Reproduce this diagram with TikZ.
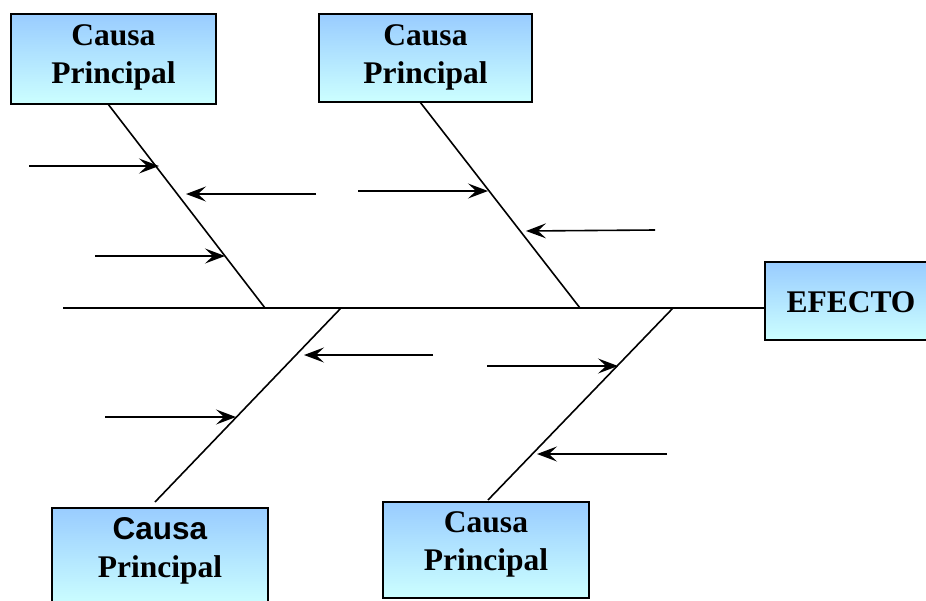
\documentclass[tikz,border=0pt]{standalone}
\usepackage{fontspec}
\setmainfont{Liberation Serif}
\newfontfamily\arialf{Liberation Sans}
\usetikzlibrary{arrows.meta}
\definecolor{boxtop}{HTML}{99CCFF}
\definecolor{boxbot}{HTML}{CCFFFF}
\begin{document}
\begin{tikzpicture}[x=1pt,y=-1pt,
  causebox/.style={draw=black, line width=1.4pt, top color=boxtop, bottom color=boxbot},
  lbl/.style={font=\fontsize{31.5}{38}\selectfont\bfseries, align=center, inner sep=0pt},
  bone/.style={line width=1.6pt},
  sub/.style={line width=1.6pt, -{Stealth[length=20pt,width=15pt,inset=8pt]}}]
\useasboundingbox (0,0) rectangle (926,600);
% boxes
\path[causebox] (11,14) rectangle (216,104);
\node[lbl] (c1) at (113.5,57) {Causa\\Principal};
\path[causebox] (319,14) rectangle (532,102);
\node[lbl] (c2) at (425.5,57) {Causa\\Principal};
\path[causebox] (52,508) rectangle (268,606);
\node[lbl] (c3) at (160,551) {{\arialf Causa}\\Principal};
\path[causebox] (383,502) rectangle (589,598);
\node[lbl] (c4) at (486,544.5) {Causa\\Principal};
\path[causebox] (765,262) rectangle (932,340);
\node[lbl] (ef) at (851,302) {EFECTO};
% coordinates
\coordinate (s0) at (63,308);
\coordinate (s1) at (765,308);
\coordinate (b1t) at (108,104);
\coordinate (b1b) at (265,308);
\coordinate (b2t) at (420,102);
\coordinate (b2b) at (580,308);
\coordinate (b3t) at (341,308);
\coordinate (b3b) at (155,502);
\coordinate (b4t) at (673,308);
\coordinate (b4b) at (488,500);
\draw[bone] (s0) -- (s1);
\draw[bone] (b1t) -- (b1b);
\draw[bone] (b2t) -- (b2b);
\draw[bone] (b3t) -- (b3b);
\draw[bone] (b4t) -- (b4b);
% sub-cause arrows
\coordinate (a1s) at (29,166);  \coordinate (a1e) at (159,166);
\coordinate (a2s) at (316,194); \coordinate (a2e) at (186,194);
\coordinate (a3s) at (95,256);  \coordinate (a3e) at (225,256);
\coordinate (a4s) at (358,191); \coordinate (a4e) at (488,191);
\coordinate (a5s) at (655,230); \coordinate (a5e) at (526,231);
\coordinate (a6s) at (433,355); \coordinate (a6e) at (304,355);
\coordinate (a7s) at (105,417); \coordinate (a7e) at (236,417);
\coordinate (a8s) at (487,366); \coordinate (a8e) at (618,366);
\coordinate (a9s) at (667,454); \coordinate (a9e) at (537,454);
\foreach \i in {1,...,9} {\draw[sub] (a\i s) -- (a\i e);}
\end{tikzpicture}
\end{document}
